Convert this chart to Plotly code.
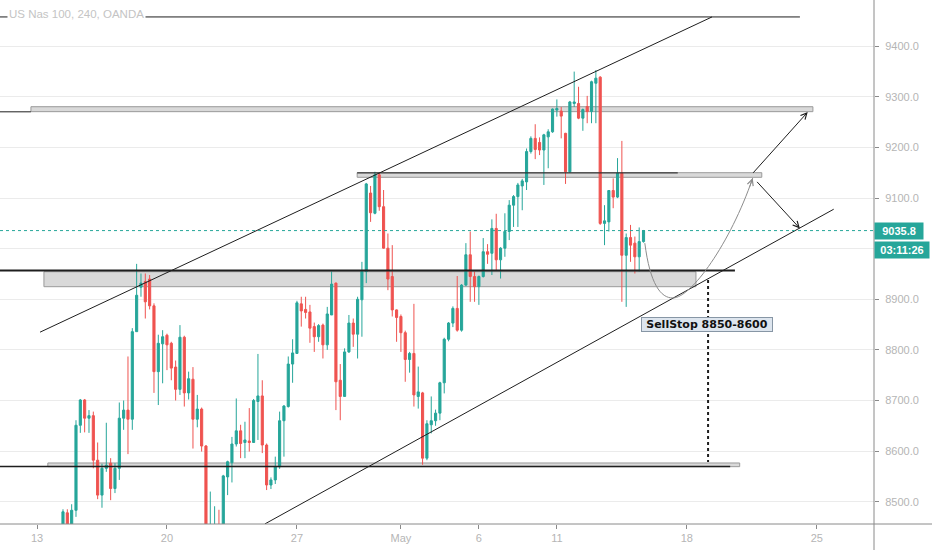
"""
Graphique US Nas 100 (4h, OANDA) avec canal haussier, zones et projection.
"""

from plotly.graph_objects import Candlestick, Figure

#### Donnees
# une bougie par barre de 4h, barres numerotees depuis le lundi 13 avril (barre 0)
bar_index = list(range(6, 141))

opens = [8440, 8478, 8450, 8483, 8651, 8701, 8665, 8670, 8582, 8513,
         8566, 8576, 8526, 8566, 8665, 8681, 8663, 8836, 8924, 8935,
         8940, 8887, 8757, 8812, 8829, 8813, 8766, 8722, 8825, 8715,
         8742, 8663, 8683, 8610, 8400, 8420, 8445, 8420, 8549, 8577,
         8614, 8640, 8617, 8620, 8617, 8698, 8709, 8612, 8533, 8543,
         8569, 8660, 8688, 8772, 8793, 8891, 8880, 8875, 8846, 8826,
         8849, 8810, 8869, 8932, 8740, 8708, 8796, 8853, 8831, 8899,
         8955, 9110, 9070, 9146, 9083, 9001, 8945, 8879, 8866, 8834,
         8781, 8793, 8708, 8715, 8586, 8652, 8660, 8675, 8735, 8821,
         8853, 8882, 8839, 8928, 8988, 8945, 8925, 8945, 8994, 8991,
         9040, 8978, 9001, 9034, 9086, 9103, 9124, 9132, 9192, 9218,
         9210, 9195, 9221, 9231, 9274, 9272, 9228, 9152, 9287, 9287,
         9258, 9281, 9271, 9327, 9339, 9050, 9053, 9115, 9102, 9149,
         8987, 9022, 9011, 8984, 9014]
highs = [8485, 8485, 8495, 8661, 8703, 8703, 8681, 8678, 8617, 8575,
         8656, 8586, 8576, 8696, 8700, 8787, 8843, 8970, 8951, 8951,
         8948, 8892, 8830, 8839, 8832, 8816, 8779, 8849, 8828, 8757,
         8766, 8711, 8686, 8612, 8520, 8491, 8484, 8553, 8581, 8628,
         8704, 8652, 8658, 8685, 8703, 8792, 8740, 8615, 8548, 8589,
         8678, 8691, 8787, 8821, 8897, 8905, 8905, 8889, 8854, 8851,
         8852, 8885, 8955, 8933, 8772, 8803, 8869, 8862, 8905, 8974,
         9130, 9124, 9152, 9150, 9116, 9030, 9007, 8880, 8870, 8838,
         8796, 8891, 8767, 8717, 8661, 8708, 8682, 8737, 8824, 8855,
         8886, 8946, 8930, 9011, 9034, 8955, 8947, 9021, 9009, 9058,
         9069, 9003, 9070, 9096, 9106, 9130, 9138, 9198, 9222, 9246,
         9220, 9227, 9236, 9277, 9295, 9280, 9229, 9292, 9350, 9320,
         9277, 9302, 9332, 9353, 9341, 9086, 9116, 9139, 9179, 9213,
         9030, 9047, 9024, 9042, 9037]
lows = [8420, 8430, 8440, 8470, 8636, 8637, 8636, 8566, 8505, 8488,
        8559, 8503, 8517, 8543, 8642, 8594, 8642, 8836, 8905, 8862,
        8880, 8715, 8691, 8734, 8760, 8740, 8700, 8711, 8688, 8702,
        8605, 8647, 8599, 8380, 8370, 8400, 8400, 8410, 8513, 8538,
        8609, 8586, 8586, 8599, 8617, 8622, 8596, 8523, 8525, 8535,
        8565, 8589, 8686, 8735, 8793, 8846, 8862, 8814, 8796, 8816,
        8783, 8800, 8869, 8681, 8661, 8708, 8794, 8806, 8783, 8826,
        8932, 9053, 9068, 9075, 9000, 8918, 8866, 8816, 8796, 8737,
        8755, 8688, 8684, 8573, 8582, 8635, 8650, 8661, 8714, 8817,
        8845, 8836, 8836, 8926, 8895, 8895, 8889, 8943, 8970, 8948,
        8958, 8941, 8984, 9017, 9043, 9043, 9076, 9116, 9188, 9177,
        9185, 9126, 9159, 9229, 9261, 9218, 9128, 9150, 9280, 9256,
        9233, 9248, 9248, 9248, 9047, 9007, 9034, 9080, 9100, 8895,
        8885, 8974, 8951, 8955, 9012]
closes = [8480, 8450, 8483, 8651, 8701, 8665, 8670, 8582, 8513, 8566,
          8572, 8526, 8566, 8665, 8681, 8663, 8836, 8908, 8932, 8895,
          8887, 8757, 8813, 8826, 8810, 8764, 8722, 8825, 8715, 8743,
          8663, 8683, 8610, 8400, 8430, 8440, 8420, 8551, 8579, 8614,
          8640, 8615, 8622, 8617, 8700, 8709, 8612, 8533, 8543, 8569,
          8660, 8689, 8772, 8794, 8893, 8877, 8874, 8843, 8826, 8848,
          8810, 8871, 8930, 8737, 8708, 8796, 8853, 8831, 8900, 8955,
          9128, 9071, 9146, 9083, 9001, 8940, 8879, 8864, 8834, 8781,
          8793, 8711, 8717, 8586, 8654, 8660, 8675, 8735, 8821, 8853,
          8882, 8839, 8928, 8988, 8945, 8925, 8945, 8994, 8989, 9040,
          8978, 9001, 9034, 9086, 9103, 9126, 9134, 9192, 9218, 9196,
          9195, 9225, 9231, 9276, 9277, 9262, 9152, 9290, 9290, 9258,
          9275, 9271, 9330, 9337, 9050, 9055, 9115, 9102, 9149, 8987,
          9022, 9007, 8984, 9014, 9035.8]

# etiquettes de l'axe du temps (debut de journee, 6 barres par jour)
tick_bars = [0, 30, 60, 84, 102, 120, 150, 180]
tick_labels = ["13", "20", "27", "May", "6", "11", "18", "25"]

# echelle des prix (9000.0 est cache par le compte a rebours)
price_ticks = [8500, 8600, 8700, 8800, 8900, 9000, 9100, 9200, 9300, 9400]
hidden_ticks = [9000]

last_price = 9035.8
countdown = "03:11:26"
title_text = "US Nas 100, 240, OANDA"
order_text = "SellStop 8850-8600"

# niveaux traces a la main (barre, prix)
channel_up = [(0.7, 8835), (155.8, 9458)]
channel_low = [(52.6, 8456), (183.9, 9078)]
top_level = 9458
zones = [  # (barre debut, barre fin, prix bas, prix haut)
    (-1.4, 179.1, 9270.8, 9280.6),
    (73.9, 167.3, 9141.1, 9150.2),
    (1.6, 152.1, 8924.9, 8954.5),
    (2.5, 162.2, 8569.2, 8576.5),
]
zone_lines = [  # (barre debut, barre fin, prix, epaisseur)
    (-9, -1.4, 9270.5, 1),
    (73.9, 147.9, 9149.8, 1),
    (-9, 161.1, 8957, 2),
    (-9, 160.0, 8569.5, 1.5),
]
target_bar = 154.9
target_top, target_bottom = 8938, 8578.5
label_bar, label_price = 154.6, 8851
arrows = [  # (barre depart, prix depart, barre arrivee, prix arrivee)
    (165.0, 9147, 177.9, 9270),
    (165.9, 9135, 176.1, 9040),
]
path_points = [(140.3, 9011), (141.5, 8930), (144.0, 8902), (146.8, 8902.6),
               (151.0, 8903), (160.0, 9010), (165.2, 9139.5)]

X_RANGE = [-8.54, 193.2]
Y_RANGE = [8455.9, 9491.5]

UP = "#26a69a"
DOWN = "#ef5350"
INK = "#1e1e1e"
AXIS = "#8a8a8a"
LABEL = "#b5b5b5"


### Fonction secondaire
def line(x0, y0, x1, y1, color=INK, width=1, dash="solid", layer="above"):
    """Retourne une forme ligne en coordonnees de donnees."""
    return dict(type="line", xref="x", yref="y", x0=x0, y0=y0, x1=x1, y1=y1,
                line=dict(color=color, width=width, dash=dash), layer=layer)


### Fonction secondaire
def drawings():
    """Retourne les formes dessinees sur le graphique."""
    shapes = []
    for x0, x1, y0, y1 in zones:
        shapes.append(dict(type="rect", xref="x", yref="y", x0=x0, x1=x1,
                           y0=y0, y1=y1, fillcolor="#d9d9d9",
                           line=dict(color="#9a9a9a", width=1),
                           layer="between"))
    for x0, x1, y, w in zone_lines:
        shapes.append(line(x0, y, x1, y, width=w))
    shapes.append(line(-9, top_level, 176.1, top_level))
    shapes.append(line(*channel_up[0], *channel_up[1]))
    shapes.append(line(*channel_low[0], *channel_low[1]))
    shapes.append(line(target_bar, target_top, target_bar, target_bottom,
                       width=2, dash="dot"))
    # ligne du dernier prix
    shapes.append(line(X_RANGE[0], last_price, X_RANGE[1], last_price,
                       color=UP, dash="dot"))
    # courbe grise de projection
    p = path_points
    path = "M {},{} C {},{} {},{} {},{} C {},{} {},{} {},{}".format(
        *[v for pt in p for v in pt])
    shapes.append(dict(type="path", xref="x", yref="y", path=path,
                       line=dict(color="#8c8c8c", width=1)))
    # bordures de l'echelle a la facon TradingView
    shapes.append(dict(type="line", xref="paper", yref="paper", x0=0, x1=1.07,
                       y0=0, y1=0, line=dict(color=AXIS, width=1)))
    shapes.append(dict(type="line", xref="paper", yref="paper", x0=1, x1=1,
                       y0=-0.06, y1=1, line=dict(color=AXIS, width=1)))
    return shapes


### Fonction secondaire
def notes():
    """Retourne les annotations: fleches, etiquettes et titre."""
    ann = []
    for x0, y0, x1, y1 in arrows:
        ann.append(dict(x=x1, y=y1, ax=x0, ay=y0, xref="x", yref="y",
                        axref="x", ayref="y", text="", showarrow=True,
                        arrowhead=5, arrowsize=1.2, arrowwidth=1,
                        arrowcolor=INK))
    end = path_points[-1]
    ann.append(dict(x=end[0], y=end[1], ax=end[0] - 0.8, ay=end[1] - 20,
                    xref="x", yref="y", axref="x", ayref="y", text="",
                    showarrow=True, arrowhead=5, arrowsize=1.2, arrowwidth=1,
                    arrowcolor="#8c8c8c"))
    ann.append(dict(x=label_bar, y=label_price, xref="x", yref="y",
                    text="<b>" + order_text + "</b>", showarrow=False,
                    font=dict(family="DejaVu Sans", size=11, color="#111"),
                    bgcolor="#dde5ee", bordercolor="#8796a5", borderwidth=1,
                    borderpad=1, width=128, height=11))
    ann.append(dict(x=1, y=last_price, xref="paper", yref="y",
                    xanchor="left", text="<b>9035.8</b>", showarrow=False,
                    font=dict(family="Liberation Sans", size=11,
                              color="white"),
                    bgcolor=UP, borderpad=2, width=44, height=12))
    ann.append(dict(x=1, y=last_price, xref="paper", yref="y", yshift=-19,
                    xanchor="left", text="<b>" + countdown + "</b>",
                    showarrow=False,
                    font=dict(family="Liberation Sans", size=11,
                              color="white"),
                    bgcolor=UP, borderpad=2, width=50, height=12))
    ann.append(dict(x=7 / 874, y=1 - 14 / 524, xref="paper", yref="paper",
                    xanchor="left", yanchor="middle", text=title_text,
                    showarrow=False, bgcolor="white",
                    font=dict(family="Liberation Sans", size=11.5,
                              color="#c4c4c4")))
    return ann


#### Fonction principale
def main():
    """Construit le graphique et l'ecrit dans out.html."""
    fig = Figure()
    fig.add_trace(Candlestick(
        x=bar_index, open=opens, high=highs, low=lows, close=closes,
        increasing=dict(line=dict(color=UP, width=1), fillcolor=UP),
        decreasing=dict(line=dict(color=DOWN, width=1), fillcolor=DOWN),
        whiskerwidth=0, showlegend=False, hoverinfo="skip"))

    price_text = ["" if v in hidden_ticks else "{:.1f}".format(v)
                  for v in price_ticks]

    fig.update_layout(
        width=932, height=550,
        margin=dict(l=0, r=58, t=0, b=26),
        paper_bgcolor="white", plot_bgcolor="white",
        font=dict(family="Liberation Sans", size=11, color=LABEL),
        shapes=drawings(), annotations=notes(),
        xaxis=dict(range=X_RANGE, tickvals=tick_bars, ticktext=tick_labels,
                   showgrid=False, zeroline=False, showline=False,
                   ticks="outside", ticklen=4, tickcolor=AXIS,
                   tickfont=dict(size=11, color=LABEL),
                   rangeslider=dict(visible=False)),
        yaxis=dict(range=Y_RANGE, side="right", tickvals=price_ticks,
                   ticktext=price_text, showgrid=True, gridcolor="#ebebeb",
                   zeroline=False, showline=False, ticks="outside",
                   ticklen=4, tickcolor=AXIS, ticklabelstandoff=4,
                   tickfont=dict(size=11, color=LABEL)),
    )
    # la page garde une marge de 8px autour du graphique: on l'enleve
    fig.write_html("out.html", config={"displayModeBar": False},
                   post_script="document.body.style.margin = '0';")


if __name__ == "__main__":
    main()
